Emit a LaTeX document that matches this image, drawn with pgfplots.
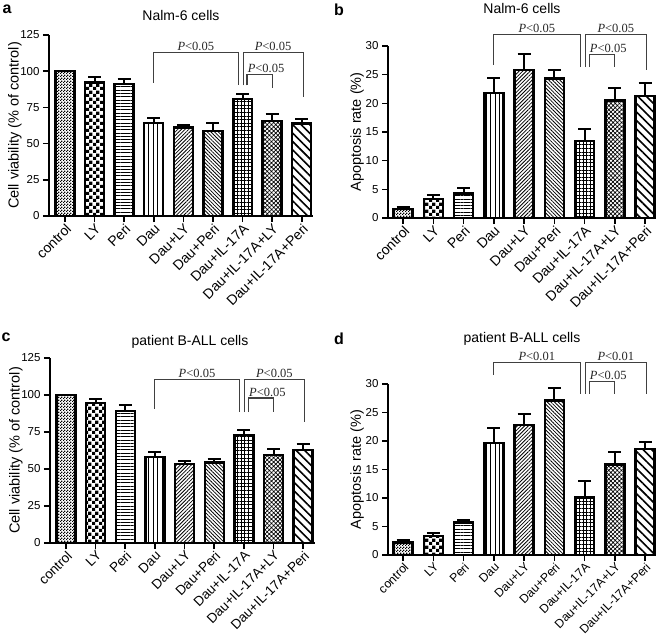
\documentclass[border=0pt]{standalone}
\usepackage{fontspec}
\setmainfont{Liberation Sans}
\newfontfamily\serif{Liberation Serif}
\usepackage{pgfplots}
\pgfplotsset{compat=1.18}
\usetikzlibrary{patterns,patterns.meta}

\pgfdeclarepatternformonly{finechecker}{\pgfpointorigin}{\pgfqpoint{3pt}{3pt}}{\pgfqpoint{3pt}{3pt}}{%
 \pgfpathrectangle{\pgfpointorigin}{\pgfqpoint{1.5pt}{1.5pt}}%
 \pgfpathrectangle{\pgfqpoint{1.5pt}{1.5pt}}{\pgfqpoint{1.5pt}{1.5pt}}%
 \pgfusepath{fill}}
\pgfdeclarepatternformonly{bigchecker}{\pgfpointorigin}{\pgfqpoint{6.6pt}{6.6pt}}{\pgfqpoint{6.6pt}{6.6pt}}{%
 \pgfpathrectangle{\pgfpointorigin}{\pgfqpoint{3.3pt}{3.3pt}}%
 \pgfpathrectangle{\pgfqpoint{3.3pt}{3.3pt}}{\pgfqpoint{3.3pt}{3.3pt}}%
 \pgfusepath{fill}}

\newcommand\tk{\fontsize{11.5}{14}\selectfont}
\newcommand\yl{\fontsize{14.5}{16}\selectfont}
\newcommand\ttl{\fontsize{14}{16}\selectfont}
\newcommand\pl{\serif\fontsize{12.5}{14}\selectfont}
\newcommand\Pv[1]{\textit{P}<#1}

\tikzset{
 pat0/.style={pattern=finechecker},
 pat1/.style={pattern=bigchecker},
 pat2/.style={pattern={Lines[angle=0,distance=3.3pt,line width=1pt]}},
 pat3/.style={pattern={Lines[angle=90,distance=4.5pt,line width=1pt]}},
 pat4/.style={pattern={Lines[angle=45,distance=2.6pt,line width=0.8pt]}},
 pat5/.style={pattern={Lines[angle=-45,distance=2.6pt,line width=0.8pt]}},
 pat6/.style={pattern={Hatch[angle=0,distance=3.6pt,line width=0.8pt]}},
 pat7/.style={pattern={Hatch[angle=45,distance=3pt,line width=0.7pt]}},
 pat8/.style={pattern={Lines[angle=-45,distance=6pt,line width=1.6pt]}},
 brk/.style={line width=1.1pt, black!75},
 plab/.style={anchor=south, font=\pl, inner sep=1.5pt, text=black!85},
}

\pgfplotsset{
 base/.style={
  scale only axis, clip=false,
  axis x line*=bottom, axis y line*=left,
  axis line style={line width=1.8pt},
  tick align=outside, major tick length=6pt,
  tick style={line width=1.6pt, black},
  ybar, bar width=19pt, bar shift=0pt,
  ymin=0,
  xtick={0,...,8},
  xticklabels={control,LY,Peri,Dau,Dau+LY,Dau+Peri,Dau+IL-17A,Dau+IL-17A+LY,Dau+IL-17A+Peri},
  xticklabel style={rotate=45, anchor=north east, inner sep=0.5pt},
  yticklabel style={font=\tk},
  /pgf/number format/assume math mode=true,
  ylabel style={font=\yl, at={(axis description cs:0,0.5)}, anchor=center, yshift=34pt},
  error bars/error bar style={line width=2pt, black},
  error bars/error mark options={rotate=90, line width=2pt, mark size=6.5pt, black},
 },
 barsty/.style={draw=black, line width=2.4pt},
}
\newcommand\bb[4]{\addplot[barsty,#2,error bars/.cd,y dir=plus,y explicit] coordinates {(#1,#3) +- (0,#4)};}
\newcommand\bn[3]{\addplot[barsty,#2] coordinates {(#1,#3)};}

\begin{document}
\begin{tikzpicture}[x=1pt,y=1pt]
\useasboundingbox (0,0) rectangle (661,-638);

% ---------- panel a
\begin{axis}[base, at={(49pt,-216pt)}, width=264pt, height=181pt,
  xmin=-0.54, xmax=8.38, ymax=125, ytick={0,25,...,125},
  xticklabel style={font=\fontsize{14}{16}\selectfont},
  ylabel={Cell viability (\% of control)}]
\bn{0}{pat0}{100}
\bb{1}{pat1}{92.3}{4.0}
\bb{2}{pat2}{91.0}{3.8}
\bb{3}{pat3}{64.2}{3.6}
\bb{4}{pat4}{61.0}{2.0}
\bb{5}{pat5}{58.8}{5.2}
\bb{6}{pat6}{81.0}{3.4}
\bb{7}{pat7}{65.8}{4.5}
\bb{8}{pat8}{63.8}{3.5}
\draw[brk] (axis cs:3,92) |- (axis cs:5.85,113) -- (axis cs:5.85,90.3);
\draw[brk] (axis cs:6.02,90.3) |- (axis cs:8.05,113) -- (axis cs:8.05,82.3);
\draw[brk] (axis cs:6.15,90.3) |- (axis cs:7,97.8) -- (axis cs:7,88.7);
\node[plab] at (axis cs:4.42,113) {\Pv{0.05}};
\node[plab] at (axis cs:7.03,113) {\Pv{0.05}};
\node[plab, anchor=south west] at (axis cs:6.12,97.8) {\Pv{0.05}};
\end{axis}

% ---------- panel b
\begin{axis}[base, at={(388pt,-218pt)}, width=268pt, height=172pt,
  xmin=-0.5, xmax=8.36, ymax=30, ytick={0,5,...,30},
  xticklabel style={font=\fontsize{14}{16}\selectfont},
  ylabel style={yshift=-3pt},
  ylabel={Apoptosis rate (\%)}]
\bb{0}{pat0}{1.6}{0.3}
\bb{1}{pat1}{3.3}{0.7}
\bb{2}{pat2}{4.3}{1.0}
\bb{3}{pat3}{21.8}{2.6}
\bb{4}{pat4}{25.8}{2.8}
\bb{5}{pat5}{24.3}{1.5}
\bb{6}{pat6}{13.4}{2.1}
\bb{7}{pat7}{20.5}{2.2}
\bb{8}{pat8}{21.3}{2.3}
\draw[brk] (axis cs:3,26.7) |- (axis cs:5.85,32) -- (axis cs:5.85,26.3);
\draw[brk] (axis cs:6.02,26.3) |- (axis cs:8.05,32) -- (axis cs:8.05,25.8);
\draw[brk] (axis cs:6.15,26.3) |- (axis cs:7,28.5) -- (axis cs:7,26.3);
\node[plab] at (axis cs:4.42,32) {\Pv{0.05}};
\node[plab] at (axis cs:7.03,32) {\Pv{0.05}};
\node[plab, anchor=south west] at (axis cs:6.12,28.5) {\Pv{0.05}};
\end{axis}

% ---------- panel c
\begin{axis}[base, at={(50pt,-543pt)}, width=265pt, height=185pt,
  xmin=-0.54, xmax=8.4, ymax=125, ytick={0,25,...,125},
  xticklabel style={font=\fontsize{13.5}{15}\selectfont},
  ylabel={Cell viability (\% of control)}]
\bn{0}{pat0}{100}
\bb{1}{pat1}{94.8}{2.3}
\bb{2}{pat2}{89.3}{4.2}
\bb{3}{pat3}{58.2}{3.0}
\bb{4}{pat4}{53.2}{2.3}
\bb{5}{pat5}{54.4}{2.7}
\bb{6}{pat6}{72.8}{3.4}
\bb{7}{pat7}{59.4}{4.3}
\bb{8}{pat8}{62.8}{4.0}
\draw[brk] (axis cs:3,90.8) |- (axis cs:5.85,110.6) -- (axis cs:5.85,88.5);
\draw[brk] (axis cs:6.02,88.5) |- (axis cs:8.05,110.6) -- (axis cs:8.05,81.8);
\draw[brk] (axis cs:6.15,88.5) |- (axis cs:7,98) -- (axis cs:7,88.5);
\node[plab] at (axis cs:4.42,110.6) {\Pv{0.05}};
\node[plab] at (axis cs:7.03,110.6) {\Pv{0.05}};
\node[plab, anchor=south west] at (axis cs:6.12,98) {\Pv{0.05}};
\end{axis}

% ---------- panel d
\begin{axis}[base, at={(388pt,-555pt)}, width=268pt, height=171pt,
  xmin=-0.5, xmax=8.36, ymax=30, ytick={0,5,...,30},
  xticklabel style={font=\fontsize{12.2}{14}\selectfont},
  ylabel style={yshift=-3pt},
  ylabel={Apoptosis rate (\%)}]
\bb{0}{pat0}{2.2}{0.5}
\bb{1}{pat1}{3.3}{0.6}
\bb{2}{pat2}{5.7}{0.5}
\bb{3}{pat3}{19.6}{2.7}
\bb{4}{pat4}{22.8}{1.9}
\bb{5}{pat5}{27.1}{2.2}
\bb{6}{pat6}{10.1}{2.8}
\bb{7}{pat7}{15.9}{2.2}
\bb{8}{pat8}{18.6}{1.3}
\draw[brk] (axis cs:3,31.6) |- (axis cs:5.85,33.8) -- (axis cs:5.85,28.3);
\draw[brk] (axis cs:6.02,28.3) |- (axis cs:8.05,33.8) -- (axis cs:8.05,28.3);
\draw[brk] (axis cs:6.15,28.3) |- (axis cs:7,30.5) -- (axis cs:7,28.3);
\node[plab] at (axis cs:4.42,33.8) {\Pv{0.01}};
\node[plab] at (axis cs:7.03,33.8) {\Pv{0.01}};
\node[plab, anchor=south west] at (axis cs:6.12,30.5) {\Pv{0.05}};
\end{axis}

% titles and panel letters
\node[font=\ttl] at (181,-15) {Nalm-6 cells};
\node[font=\ttl] at (522,-8) {Nalm-6 cells};
\node[font=\ttl] at (190,-342) {patient B-ALL cells};
\node[font=\ttl] at (522,-339) {patient B-ALL cells};
\node[font=\bfseries\fontsize{16}{18}\selectfont] at (7,-9) {a};
\node[font=\bfseries\fontsize{16}{18}\selectfont] at (339,-10) {b};
\node[font=\bfseries\fontsize{16}{18}\selectfont] at (6,-337) {c};
\node[font=\bfseries\fontsize{16}{18}\selectfont] at (339,-339) {d};
\end{tikzpicture}
\end{document}
